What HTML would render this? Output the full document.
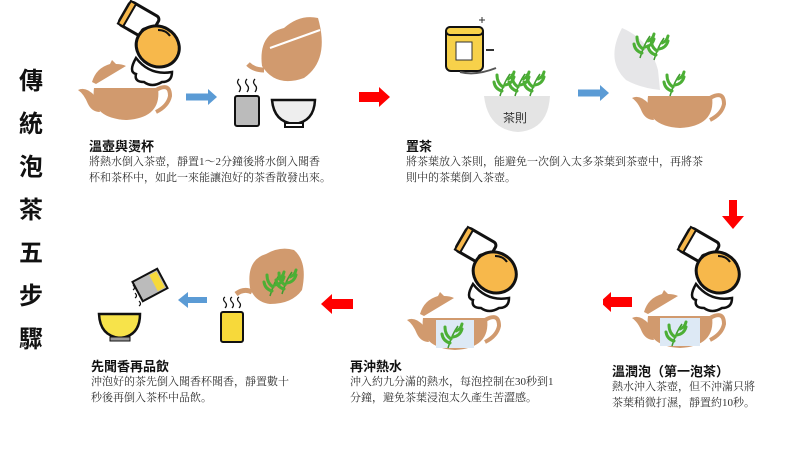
<!DOCTYPE html>
<html><head><meta charset="utf-8"><style>
body{margin:0;width:800px;height:450px;background:#fff;position:relative;overflow:hidden;font-family:"Liberation Sans","Noto Sans CJK TC",sans-serif;}
.t{position:absolute;font-weight:bold;font-size:13px;color:#111;}
.b{position:absolute;font-family:"Liberation Serif","Noto Serif CJK SC",serif;font-size:11px;line-height:16px;color:#333;}
.v{position:absolute;left:16px;top:60px;width:30px;font-size:24px;font-weight:bold;line-height:43px;text-align:center;color:#111;}
svg{position:absolute;left:0;top:0}
</style></head><body>
<svg width="800" height="450">
<defs>
<g id="pot"><path d="M-32,0 H32 Q36,30 0,32 Q-36,30 -32,0 Z" fill="#d19a6e"/><path d="M-31,8 Q-40,-2 -48,2 Q-42,6 -38,16 Q-34,24 -26,24" fill="#d19a6e"/><path d="M30,2 Q44,-6 44,8 Q42,18 30,24" fill="none" stroke="#d19a6e" stroke-width="4"/></g>
<g id="lid"><path d="M-16,12 Q-12,-2 2,-6 L4,-10 L8,-6 Q14,-6 18,-4 L-12,14Z" fill="#d19a6e"/></g>
<g id="kettle">
<g transform="rotate(30)"><rect x="-44" y="-22" width="34" height="26" rx="4" fill="#fff" stroke="#111" stroke-width="3"/><rect x="-44" y="-22" width="6" height="26" fill="#f7b84b" stroke="#111" stroke-width="2"/><circle cx="-16" cy="-2" r="4" fill="#f7b84b" stroke="#111" stroke-width="2"/></g>
<path d="M-22,16 Q-8,34 14,30 Q14,40 4,40 Q-6,46 -14,40 Q-24,40 -22,32 Q-30,30 -22,16Z" fill="#fff" stroke="#111" stroke-width="2.5"/>
<ellipse cx="2" cy="4" rx="22" ry="20" fill="#f7b84b" stroke="#111" stroke-width="3" transform="rotate(30)"/>
<path d="M0,-12 q8,0 12,6" stroke="#111" stroke-width="2" fill="none"/></g>
<g id="leaf"><path d="M0,0 Q4,-14 10,-22" stroke="#3f9a2f" stroke-width="1.5" fill="none"/><path d="M2,-5 q-7,-2 -8,-9 M5,-11 q7,-1 9,-8 M3,-9 q-6,-4 -6,-12 M8,-17 q5,-2 6,-7" stroke="#4caf35" stroke-width="3" fill="none" stroke-linecap="round"/></g>
<g id="ra"><path d="M0,-5 H20 V-10 L31,0 L20,10 V5 H0Z" fill="#f00"/></g>
<g id="ba"><path d="M0,-3.5 H22 V-8 L31,0 L22,8 V3.5 H0Z" fill="#5b9bd5"/></g>
</defs>
<!-- step1 -->
<use href="#pot" x="126" y="88"/><use href="#lid" x="108" y="70"/><use href="#kettle" x="158" y="42"/>
<use href="#ba" x="186" y="97"/>
<rect x="235" y="96" width="24" height="30" rx="2" fill="#bbb" stroke="#111" stroke-width="2"/>
<path d="M239,92 q3,-4 0,-7 q-3,-3 0,-6 M247,92 q3,-4 0,-7 q-3,-3 0,-6 M255,92 q3,-4 0,-7 q-3,-3 0,-6" stroke="#111" fill="none" stroke-width="1.3"/>
<path d="M272,100 H315 Q314,122 294,124 Q274,122 272,100Z" fill="#eee" stroke="#111" stroke-width="2.5"/><rect x="285" y="123" width="18" height="4" fill="#fff" stroke="#111" stroke-width="2"/>
<path d="M262,66 Q258,34 284,28 Q300,14 318,18 Q330,60 304,78 Q276,88 262,66Z" fill="#d19a6e"/><path d="M264,70 q-10,0 -16,-6" stroke="#d19a6e" stroke-width="5" fill="none"/><path d="M270,48 L320,30" stroke="#fff" stroke-width="2"/>
<use href="#ra" x="359" y="97"/>
<!-- step2 -->
<rect x="446" y="27" width="37" height="44" rx="5" fill="#f7d14a" stroke="#111" stroke-width="2"/><rect x="446" y="27" width="37" height="8" rx="4" fill="#f7d14a" stroke="#111" stroke-width="2"/><rect x="456" y="42" width="16" height="18" fill="#fff" stroke="#333"/>
<path d="M460,72 q16,4 36,-4" stroke="#555" stroke-width="2" fill="none"/><path d="M482,17 v6 M479,20 h6" stroke="#333"/><path d="M486,50 h8" stroke="#333" stroke-width="2"/>
<path d="M484,96 Q488,130 518,132 Q548,130 550,96Z" fill="#e4e4e4"/><text x="503" y="122" font-size="12" fill="#333" font-family="Liberation Sans,Noto Sans CJK TC,sans-serif">茶則</text>
<use href="#leaf" x="500" y="96"/><use href="#leaf" x="515" y="96"/><use href="#leaf" x="530" y="96"/>
<use href="#ba" x="578" y="93"/>
<use href="#pot" x="680" y="96"/><path d="M622,28 Q605,60 626,80 Q640,88 660,90 L658,70 Q650,40 622,28Z" fill="#e6e6e8"/><use href="#leaf" x="640" y="58"/><use href="#leaf" x="654" y="60"/><use href="#leaf" x="670" y="96"/>
<path d="M733,200 V218" stroke="#f00" stroke-width="8"/><path d="M722,216 H744 L733,229Z" fill="#f00"/>
<!-- row2 step3 -->
<use href="#pot" x="680" y="316"/><rect x="660" y="318" width="40" height="28" fill="#dde9f5"/><use href="#leaf" x="672" y="346"/><use href="#lid" x="660" y="300"/><use href="#kettle" x="718" y="268"/>
<path d="M600,302 L611,292 V297 H632 V307 H611 V312Z" fill="#f00"/>
<!-- step4 -->
<use href="#pot" x="455" y="318"/><rect x="436" y="320" width="38" height="28" fill="#dde9f5"/><use href="#leaf" x="448" y="348"/><use href="#lid" x="436" y="302"/><use href="#kettle" x="495" y="268"/>
<path d="M571,302 L582,292 V297 H603 V307 H582 V312Z" fill="#fff"/>
<path d="M570,302 L581,292 V297 H602 V307 H581 V312Z" fill="none"/>
<path d="M321,304 L332,294 V299 H353 V309 H332 V314Z" fill="#f00"/>
<!-- step5 -->
<path d="M250,288 Q246,260 266,254 Q280,246 294,250 Q308,262 302,290 Q292,304 270,304 Q255,302 250,288Z" fill="#d19a6e"/><path d="M252,292 q-8,-4 -16,2" stroke="#d19a6e" stroke-width="5" fill="none"/><use href="#leaf" x="270" y="296"/><use href="#leaf" x="282" y="294"/>
<rect x="221" y="312" width="22" height="30" rx="2" fill="#f7d93a" stroke="#111" stroke-width="2"/><path d="M225,308 q3,-3 0,-6 q-3,-3 0,-5 M232,308 q3,-3 0,-6 q-3,-3 0,-5 M239,308 q3,-3 0,-6 q-3,-3 0,-5" stroke="#111" fill="none" stroke-width="1.2"/>
<path d="M178,300 L188,292 V297 H207 V303 H188 V308Z" fill="#5b9bd5"/>
<path d="M99,314 H140 Q140,336 120,338 Q100,336 99,314Z" fill="#f7e34a" stroke="#111" stroke-width="2.5"/><rect x="110" y="337" width="20" height="4" fill="#999" stroke="#111"/>
<g transform="rotate(-28 150 285)"><rect x="136" y="274" width="28" height="22" fill="#bbb" stroke="#111" stroke-width="2"/><rect x="154" y="276" width="8" height="18" fill="#f7d93a"/></g>
<path d="M133,290 q3,-2 0,-5 M135,298 q3,-2 0,-5 M139,306 q3,-2 0,-5" stroke="#111" stroke-width="1.2" fill="none"/>
</svg>
<div class="v">傳<br>統<br>泡<br>茶<br>五<br>步<br>驟</div>
<div class="t" style="left:89px;top:136px">溫壺與燙杯</div>
<div class="b" style="left:89px;top:154px">將熱水倒入茶壺，靜置1～2分鐘後將水倒入聞香<br>杯和茶杯中，如此一來能讓泡好的茶香散發出來。</div>
<div class="t" style="left:406px;top:136px">置茶</div>
<div class="b" style="left:406px;top:154px">將茶葉放入茶則，能避免一次倒入太多茶葉到茶壺中，再將茶<br>則中的茶葉倒入茶壺。</div>
<div class="t" style="left:91px;top:356px">先聞香再品飲</div>
<div class="b" style="left:91px;top:374px">沖泡好的茶先倒入聞香杯聞香，靜置數十<br>秒後再倒入茶杯中品飲。</div>
<div class="t" style="left:350px;top:356px">再沖熱水</div>
<div class="b" style="left:350px;top:374px">沖入約九分滿的熱水，每泡控制在30秒到1<br>分鐘，避免茶葉浸泡太久產生苦澀感。</div>
<div class="t" style="left:612px;top:361px">溫潤泡（第一泡茶）</div>
<div class="b" style="left:612px;top:379px">熱水沖入茶壺，但不沖滿只將<br>茶葉稍微打濕，靜置約10秒。</div>
</body></html>
